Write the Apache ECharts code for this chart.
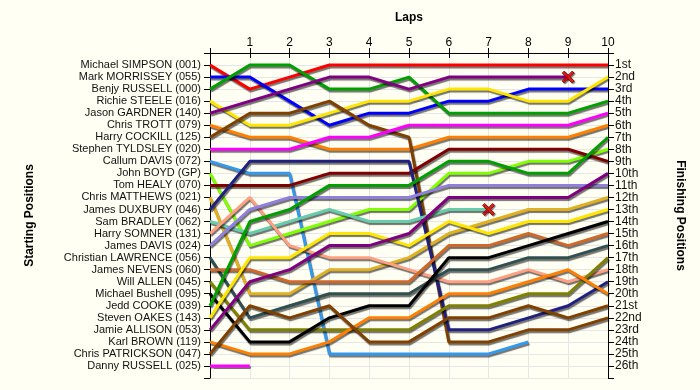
<!DOCTYPE html>
<html>
<head>
<meta charset="utf-8">
<script src="https://cdn.jsdelivr.net/npm/echarts@6/dist/echarts.min.js"></script>
<style>
html,body{margin:0;padding:0;background:#fffff4;}
#chart{width:700px;height:390px;}
</style>
</head>
<body>
<div id="chart"></div>
<script>
const laps = [0, 1, 2, 3, 4, 5, 6, 7, 8, 9, 10];
const startNames = [
  'Michael SIMPSON (001)', 'Mark MORRISSEY (055)', 'Benjy RUSSELL (000)', 'Richie STEELE (016)',
  'Jason GARDNER (140)', 'Chris TROTT (079)', 'Harry COCKILL (125)', 'Stephen TYLDSLEY (020)',
  'Callum DAVIS (072)', 'John BOYD (GP)', 'Tom HEALY (070)', 'Chris MATTHEWS (021)',
  'James DUXBURY (046)', 'Sam BRADLEY (062)', 'Harry SOMNER (131)', 'James DAVIS (024)',
  'Christian LAWRENCE (056)', 'James NEVENS (060)', 'Will ALLEN (045)', 'Michael Bushell (095)',
  'Jedd COOKE (039)', 'Steven OAKES (143)', 'Jamie ALLISON (053)', 'Karl BROWN (119)',
  'Chris PATRICKSON (047)', 'Danny RUSSELL (025)'
];
const finishLabels = ['1st','2nd','3rd','4th','5th','6th','7th','8th','9th','10th','11th','12th','13th',
  '14th','15th','16th','17th','18th','19th','20th','21st','22nd','23rd','24th','25th','26th'];
// positions per lap (lap 0 = start), one list per starting slot
const lapPositions = [
  [1,3,2,1,1,1,1,1,1,1,1],
  [2,2,4,6,5,5,4,4,3,3,3],
  [3,1,1,3,3,2,5,5,5,5,4],
  [4,6,6,5,4,4,3,3,4,4,2],
  [5,4,3,2,2,3,2,2,2,2],
  [6,7,7,8,8,8,7,7,7,7,6],
  [7,5,5,4,6,7,24,24,23,23,22],
  [8,8,8,7,7,6,6,6,6,6,5],
  [9,10,10,25,25,25,25,25,24],
  [10,16,15,14,13,13,10,10,9,9,8],
  [11,11,11,10,10,10,8,8,8,8,9],
  [12,20,20,18,18,17,15,14,13,13,12],
  [13,9,9,9,9,9,23,23,22,21,19],
  [14,15,14,13,14,14,13,13],
  [15,12,16,17,17,18,19,19,18,19,18],
  [16,13,12,12,12,12,11,11,11,11,11],
  [17,22,21,20,20,20,18,18,17,17,16],
  [18,18,19,19,19,19,16,16,15,16,15],
  [19,23,23,23,23,23,21,21,20,20,17],
  [20,24,24,22,21,21,17,17,16,15,14],
  [21,14,13,11,11,11,9,9,10,10,7],
  [22,17,17,15,15,16,14,15,14,14,13],
  [23,19,18,16,16,15,12,12,12,12,10],
  [24,25,25,24,22,22,20,20,19,18,20],
  [25,21,22,21,24,24,22,22,21,22,21],
  [26,26]
];
const lineColors = [
  '#ff0000','#0000ff','#00a000','#ffe600','#800080','#ff8000','#804000','#ff00ff',
  '#3399ee','#80ff00','#800000','#e0b020','#202080','#66ccaa','#ffa080','#9080dd',
  '#305050','#d06828','#808000','#000000','#00a000','#ffe600','#800080','#ff8000',
  '#804000','#ff00ff'
];
// retirements: [lap, position]
const retiredLaps = [9, 7];
const retiredPositions = [2, 13];

const FONT = '"Liberation Sans", Arial, sans-serif';
const chart = echarts.init(document.getElementById('chart'), null, {renderer: 'canvas'});

const series = lapPositions.map((arr, i) => ({
  type: 'line',
  xAxisIndex: 0,
  yAxisIndex: 0,
  data: arr.map((p, k) => [laps[k], p]),
  showSymbol: false,
  symbol: 'none',
  silent: true,
  lineStyle: {
    color: lineColors[i], width: 3,
    shadowColor: 'rgba(0,0,0,0.55)', shadowBlur: 1, shadowOffsetX: 1, shadowOffsetY: 2
  },
  z: 2
}));
series.push({
  type: 'scatter',
  xAxisIndex: 0, yAxisIndex: 0,
  data: retiredLaps.map((l, i) => [l, retiredPositions[i]]),
  symbol: 'path://M0,2 L2,0 L6,4 L10,0 L12,2 L8,6 L12,10 L10,12 L6,8 L2,12 L0,10 L4,6 Z',
  symbolSize: 12,
  itemStyle: {color: '#ff0000', borderColor: '#700000', borderWidth: 1,
    shadowColor: 'rgba(0,0,0,0.5)', shadowBlur: 1, shadowOffsetX: 1, shadowOffsetY: 1},
  z: 5
});

const option = {
  backgroundColor: '#fffff4',
  animation: false,
  grid: {left: 210, right: 92, top: 53, bottom: 12},
  xAxis: [{
    type: 'value', position: 'top', min: 0, max: 10, interval: 1,
    name: 'Laps', nameLocation: 'middle', nameGap: 29,
    nameTextStyle: {fontFamily: FONT, fontSize: 12, fontWeight: 'bold', color: '#000'},
    axisLine: {show: true, lineStyle: {color: '#000', width: 1}},
    axisTick: {show: true, length: 5, lineStyle: {color: '#000'}},
    axisLabel: {fontFamily: FONT, fontSize: 12, color: '#000', margin: 4,
      formatter: v => v === 0 ? '' : String(v)},
    splitLine: {show: true, lineStyle: {color: '#e6e6e6', width: 1}}
  }, {
    type: 'value', position: 'top', min: 0, max: 10, interval: 1,
    axisLine: {show: false},
    axisTick: {show: true, inside: true, length: 5, lineStyle: {color: '#000'}},
    axisLabel: {show: false}, splitLine: {show: false}
  }],
  yAxis: [{
    type: 'value', position: 'left', min: 0, max: 27, interval: 1, inverse: true,
    name: 'Starting Positions', nameLocation: 'middle', nameGap: 174, nameRotate: 90,
    nameTextStyle: {fontFamily: FONT, fontSize: 12, fontWeight: 'bold', color: '#000'},
    axisLine: {show: true, onZero: false, lineStyle: {color: '#000', width: 1}},
    axisTick: {show: true, length: 6, lineStyle: {color: '#000'}},
    axisLabel: {fontFamily: FONT, fontSize: 11, color: '#111', margin: 9,
      formatter: v => startNames[v - 1] || ''},
    splitLine: {show: true, lineStyle: {color: '#e6e6e6', width: 1}}
  }, {
    type: 'value', position: 'right', min: 0, max: 27, interval: 1, inverse: true,
    name: 'Finishing Positions', nameLocation: 'middle', nameGap: 66, nameRotate: -90,
    nameTextStyle: {fontFamily: FONT, fontSize: 12, fontWeight: 'bold', color: '#000'},
    axisLine: {show: true, onZero: false, lineStyle: {color: '#000', width: 1}},
    axisTick: {show: true, length: 6, lineStyle: {color: '#000'}},
    axisLabel: {fontFamily: FONT, fontSize: 12, color: '#111', margin: 7,
      formatter: v => finishLabels[v - 1] || ''},
    splitLine: {show: false}
  }],
  series: series
};
chart.setOption(option);
</script>
</body>
</html>
